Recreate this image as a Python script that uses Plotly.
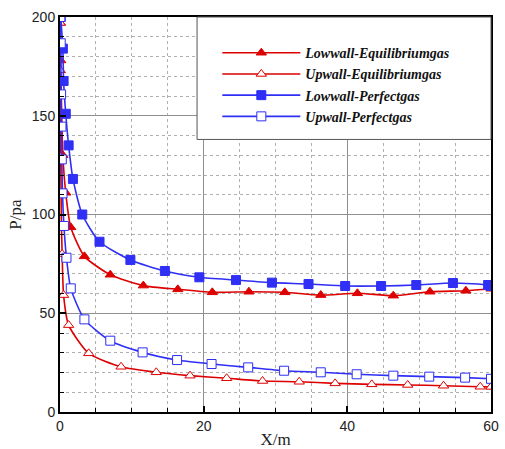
import plotly.graph_objects as go

# Wall pressure distributions along the channel (X in m, P in Pa)
x_low_eq = [0.05, 0.1, 0.4, 0.8, 1.5, 3.4, 7.0, 11.6, 16.4, 21.2, 26.3, 31.3, 36.3, 41.4, 46.4, 51.5, 56.5, 60.0]
p_low_eq = [197, 178, 130, 111, 93.5, 78.8, 69.5, 64.0, 62.1, 60.6, 60.9, 60.6, 59.2, 60.1, 58.9, 60.9, 61.4, 62.4]

x_up_eq = [0.02, 0.05, 0.1, 0.15, 0.2, 0.3, 0.5, 1.2, 4.0, 8.5, 13.4, 18.1, 23.2, 28.2, 33.3, 38.3, 43.4, 48.4, 53.4, 58.5, 60.0]
p_up_eq = [197, 173, 129, 110.7, 94.3, 80, 59.2, 44.0, 29.7, 22.9, 20.1, 18.4, 17.1, 15.7, 15.3, 14.5, 14.0, 13.7, 13.3, 12.8, 12.7]

x_low_pg = [0.1, 0.4, 0.5, 0.8, 1.2, 1.8, 3.1, 5.5, 9.8, 14.6, 19.4, 24.5, 29.5, 34.6, 39.7, 44.7, 49.6, 54.7, 59.6, 60.0]
p_low_pg = [200, 184, 167.6, 151, 135, 118, 100, 86.2, 77.0, 71.4, 68.2, 66.8, 65.5, 64.8, 63.8, 63.8, 64.3, 65.3, 64.3, 63.8]

x_up_pg = [0.05, 0.1, 0.15, 0.2, 0.25, 0.35, 0.55, 0.9, 1.5, 3.4, 7.0, 11.5, 16.3, 21.1, 26.2, 31.2, 36.3, 41.3, 46.4, 51.4, 56.4, 60.0]
p_up_pg = [200, 186.7, 160.8, 144.5, 127.9, 110.7, 94.2, 78.1, 62.6, 46.9, 36.1, 30.2, 26.3, 24.3, 22.6, 20.9, 20.1, 19.1, 18.4, 17.9, 17.4, 16.8]

RED = "#dd0000"
BLUE = "#2f2ff5"

series = [
    ("Lowwall-Equilibriumgas", x_low_eq, p_low_eq, RED, "triangle-up", RED),
    ("Upwall-Equilibriumgas", x_up_eq, p_up_eq, RED, "triangle-up", "white"),
    ("Lowwall-Perfectgas", x_low_pg, p_low_pg, BLUE, "square", BLUE),
    ("Upwall-Perfectgas", x_up_pg, p_up_pg, BLUE, "square", "white"),
]

fig = go.Figure()
for name, xs, ps, col, sym, fill in series:
    fig.add_trace(go.Scatter(
        x=xs, y=ps, name=name, mode="lines+markers",
        line=dict(color=col, width=1.6, shape="spline", smoothing=0.6),
        marker=dict(symbol=sym, size=9, color=fill, line=dict(color=col, width=1)),
    ))

axis_common = dict(
    showline=True, linecolor="black", linewidth=2, mirror=True,
    showgrid=True, gridcolor="#8f8f8f", gridwidth=1,
    ticks="inside", ticklen=6, tickwidth=2, tickcolor="black",
    tickfont=dict(family="Liberation Sans, Arial", size=14, color="#222"),
    zeroline=False, automargin=False,
)

fig.update_xaxes(
    range=[0, 60], dtick=20, tick0=0,
    minor=dict(dtick=5, showgrid=True, gridcolor="#b0b0b0", griddash="dot",
               ticks="inside", ticklen=4, tickcolor="black", tickwidth=1),
    title=dict(text="X/m", font=dict(family="Liberation Serif, Times New Roman", size=17, color="#222"),
               standoff=4),
    **axis_common,
)
fig.update_yaxes(
    range=[0, 200], dtick=50, tick0=0,
    minor=dict(dtick=10, showgrid=True, gridcolor="#b0b0b0", griddash="dot",
               ticks="inside", ticklen=4, tickcolor="black", tickwidth=1),
    title=dict(text="P/pa", font=dict(family="Liberation Serif, Times New Roman", size=17, color="#222"),
               standoff=6),
    **axis_common,
)

fig.update_layout(
    width=505, height=449,
    margin=dict(l=60, r=14, t=17, b=37),
    paper_bgcolor="white", plot_bgcolor="white",
    legend=dict(
        x=0.365, y=0.949, xanchor="left", yanchor="top",
        bgcolor="rgba(0,0,0,0)", borderwidth=0,
        font=dict(family="Liberation Serif, Times New Roman", size=14, color="#111",
                  weight="bold", style="italic"),
        itemwidth=78, tracegroupgap=0,
    ),
    shapes=[dict(
        type="rect", xref="paper", yref="paper",
        x0=0.318, x1=1.0, y0=0.69, y1=1.0,
        line=dict(color="#555", width=1), fillcolor="white", layer="above",
    )],
)

fig.write_html("out.html")
